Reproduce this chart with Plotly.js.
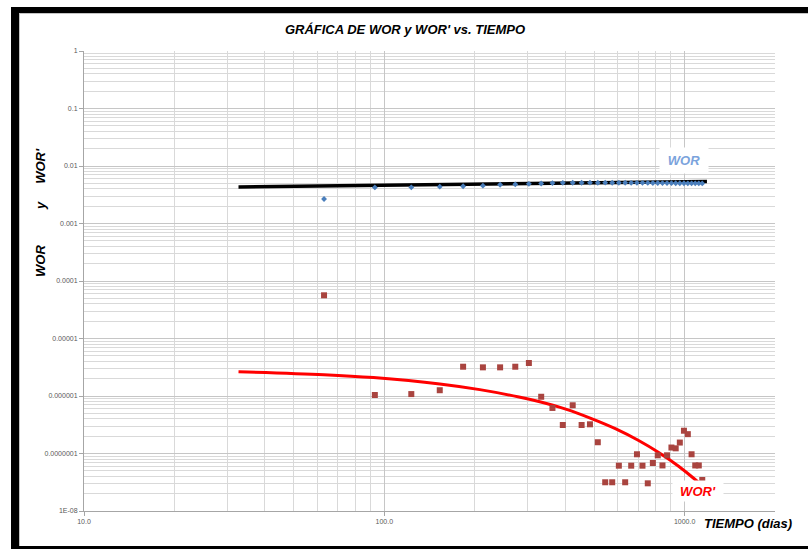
<!DOCTYPE html>
<html>
<head>
<meta charset="utf-8">
<script src="https://cdn.plot.ly/plotly-3.0.1.min.js"></script>
<style>
  html, body { margin: 0; padding: 0; background: #ffffff; }
  #wrap { position: relative; width: 808px; height: 549px; overflow: hidden; }
  #chart { position: absolute; left: 0; top: 0; width: 808px; height: 549px; }
  .bar { position: absolute; background: #000; pointer-events: none; z-index: 5; }
  .inner { position: absolute; pointer-events: none; z-index: 4; border-left: 1px solid #c4c4c4; border-top: 1px solid #c4c4c4; }
</style>
</head>
<body>
<div id="wrap">
  <div id="chart"></div>
  <div class="bar" style="left:11px; top:7px; width:8px; height:542px;"></div>
  <div class="bar" style="left:11px; top:7px; width:797px; height:6px;"></div>
  <div class="bar" style="left:11px; top:546px; width:797px; height:3px;"></div>
  <div class="inner" style="left:19px; top:13px; width:789px; height:533px;"></div>
</div>
<script>
// Time in days (x axis)
const days = [63, 93, 123, 153, 183, 213, 243, 273, 303, 333,
              363, 393, 424, 454, 484, 514, 544, 574, 604, 634,
              664, 694, 724, 754, 784, 814, 844, 874, 904, 934,
              964, 995, 1025, 1055, 1085, 1115, 1145];

// WOR (blue diamonds)
const wor = [0.00267, 0.00424, 0.00426, 0.00437, 0.00444, 0.00455, 0.00473, 0.00480, 0.00490, 0.00497,
             0.00505, 0.00510, 0.00512, 0.00512, 0.00513, 0.00512, 0.00513, 0.00512, 0.00512, 0.00511,
             0.00510, 0.00510, 0.00509, 0.00508, 0.00507, 0.00506, 0.00505, 0.00504, 0.00503, 0.00502,
             0.00502, 0.00501, 0.00500, 0.00500, 0.00499, 0.00499, 0.00498];

// WOR' (red squares)
const worPrime = [5.64e-5, 1.04e-6, 1.08e-6, 1.26e-6, 3.23e-6, 3.15e-6, 3.15e-6, 3.23e-6, 3.75e-6, 9.7e-7,
                  6.2e-7, 3.13e-7, 6.9e-7, 3.13e-7, 3.22e-7, 1.57e-7, 3.16e-8, 3.16e-8, 6.14e-8, 3.16e-8,
                  6.14e-8, 9.7e-8, 6.14e-8, 3.03e-8, 6.84e-8, 9.3e-8, 6.2e-8, 9.3e-8, 1.27e-7, 1.23e-7,
                  1.55e-7, 2.49e-7, 2.17e-7, 9.7e-8, 6.2e-8, 6.2e-8, 3.46e-8];

// WOR trend line (black)
const worTrendDays = [32.7, 1187];
const worTrend = [0.00431, 0.00537];

// WOR' trend curve (red)
const primeTrendDays = [32.7, 63, 92, 153, 208, 281, 327, 402, 492, 588, 703, 820, 955, 1079, 1187];
const primeTrend = [2.65e-6, 2.35e-6, 2.09e-6, 1.62e-6, 1.29e-6, 9.6e-7, 8.0e-7, 5.9e-7, 4.0e-7, 2.7e-7,
                    1.68e-7, 1.04e-7, 6.0e-8, 3.6e-8, 2.3e-8];

// Axis ticks
const xTickVals = [10, 100, 1000];
const xTickText = ['10.0', '100.0', '1000.0'];
const yTickVals = [1, 0.1, 0.01, 0.001, 0.0001, 0.00001, 0.000001, 0.0000001, 0.00000001];
const yTickText = ['1', '0.1', '0.01', '0.001', '0.0001', '0.00001', '0.000001', '0.0000001', '1E-08'];

const FONT = 'Liberation Sans, Arial, sans-serif';

const traces = [
  { x: worTrendDays, y: worTrend, mode: 'lines', line: { color: '#000000', width: 3.5 }, hoverinfo: 'skip' },
  { x: primeTrendDays, y: primeTrend, mode: 'lines', line: { color: '#ff0000', width: 3, shape: 'spline', smoothing: 1 }, hoverinfo: 'skip' },
  { x: days, y: wor, mode: 'markers', marker: { symbol: 'diamond', size: 4.5, color: '#4a7ebb' } },
  { x: days, y: worPrime, mode: 'markers', marker: { symbol: 'square', size: 6, color: '#a9443f' } }
];

const px = v => (v - 84) / 691;
const py = v => (511 - v) / 460;
const nb = n => '\u00A0'.repeat(n);

const layout = {
  width: 808, height: 549,
  margin: { l: 84, r: 33, t: 51, b: 38, pad: 0 },
  paper_bgcolor: '#ffffff', plot_bgcolor: '#ffffff',
  showlegend: false,
  title: {
    text: "<b><i>GRÁFICA DE WOR y WOR' vs. TIEMPO</i></b>",
    font: { family: FONT, size: 13, color: '#000000' },
    x: 405 / 808, xanchor: 'center', y: 1 - 29 / 549, yanchor: 'middle'
  },
  xaxis: {
    type: 'log', range: [1, Math.log10(2000)],
    tickmode: 'array', tickvals: xTickVals, ticktext: xTickText,
    ticks: 'outside', ticklen: 4, tickcolor: '#a6a6a6',
    tickfont: { family: FONT, size: 7, color: '#595959' },
    showgrid: true, gridcolor: '#c6c6c6', gridwidth: 1,
    minor: { dtick: 'D1', showgrid: true, gridcolor: '#d9d9d9', gridwidth: 1, ticks: '' },
    showline: true, linecolor: '#a6a6a6', linewidth: 1, zeroline: false, mirror: false
  },
  yaxis: {
    type: 'log', range: [-8, 0],
    tickmode: 'array', tickvals: yTickVals, ticktext: yTickText,
    ticks: 'outside', ticklen: 4, tickcolor: '#a6a6a6',
    tickfont: { family: FONT, size: 7, color: '#595959' },
    showgrid: true, gridcolor: '#c6c6c6', gridwidth: 1,
    minor: { dtick: 'D1', showgrid: true, gridcolor: '#d9d9d9', gridwidth: 1, ticks: '' },
    showline: true, linecolor: '#a6a6a6', linewidth: 1, zeroline: false, mirror: false
  },
  annotations: [
    { xref: 'paper', yref: 'paper', x: px(41), y: py(213), textangle: -90, showarrow: false,
      xanchor: 'center', yanchor: 'middle',
      text: '<b><i>WOR' + nb(10) + 'y' + nb(5) + "WOR'</i></b>",
      font: { family: FONT, size: 13, color: '#000000' } },
    { xref: 'paper', yref: 'paper', x: px(748), y: py(523), showarrow: false,
      xanchor: 'center', yanchor: 'middle',
      text: '<b><i>TIEMPO (días)</i></b>',
      font: { family: FONT, size: 13, color: '#000000' } },
    { xref: 'paper', yref: 'paper', x: px(684), y: py(160), showarrow: false,
      xanchor: 'center', yanchor: 'middle', bgcolor: '#ffffff', borderpad: 3, width: 42, height: 19,
      text: '<b><i>WOR</i></b>',
      font: { family: FONT, size: 13, color: '#7ba3dc' } },
    { xref: 'paper', yref: 'paper', x: px(698), y: py(491), showarrow: false,
      xanchor: 'center', yanchor: 'middle', bgcolor: '#ffffff', borderpad: 2, width: 46, height: 16,
      text: "<b><i>WOR'</i></b>",
      font: { family: FONT, size: 13, color: '#ff0000' } }
  ]
};

Plotly.newPlot('chart', traces, layout, { staticPlot: true, displayModeBar: false });
</script>
</body>
</html>
